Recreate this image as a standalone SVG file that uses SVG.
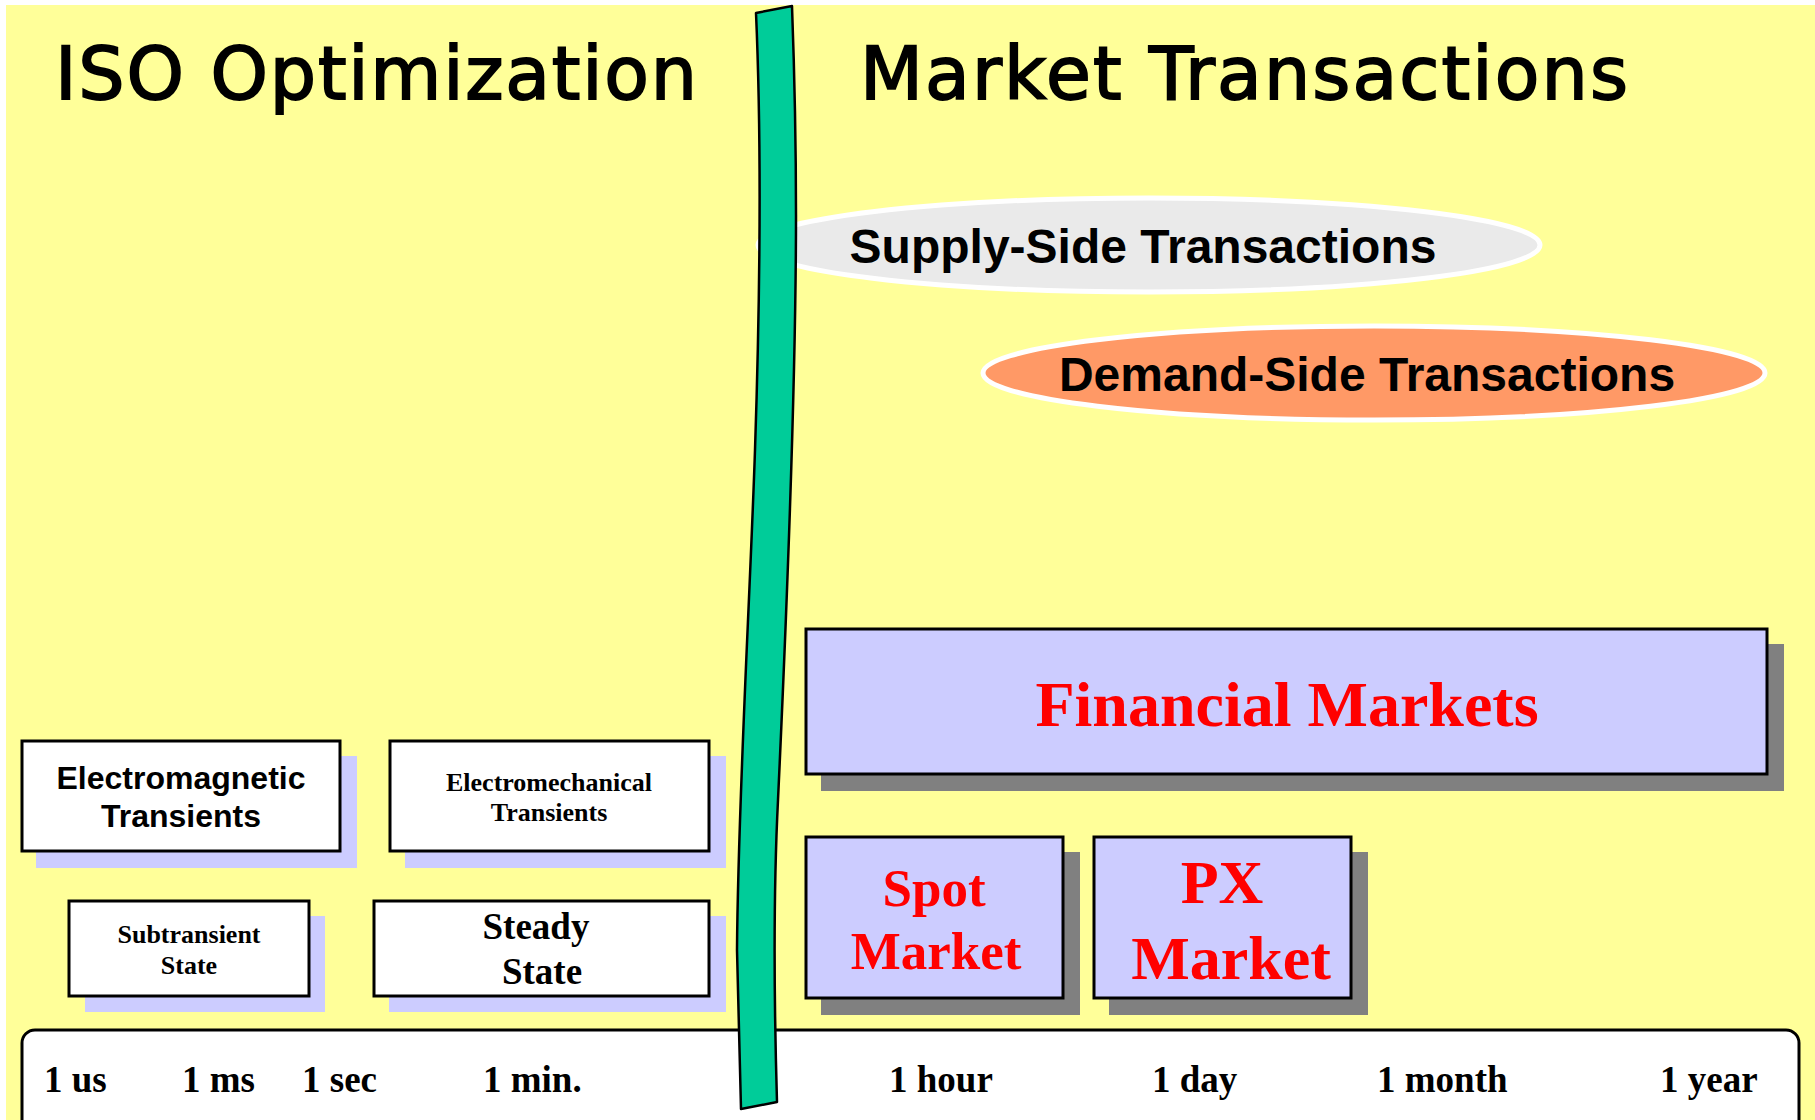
<svg xmlns="http://www.w3.org/2000/svg" width="1815" height="1120" viewBox="0 0 1815 1120">
<style>
.title{font-family:"DejaVu Sans","Liberation Sans",Arial,sans-serif;font-size:73px;fill:#000;stroke:#000;stroke-width:1.8px}
.sans{font-family:"Liberation Sans",Arial,sans-serif;font-weight:bold;fill:#000}
.serif{font-family:"Liberation Serif","Times New Roman",serif;font-weight:bold;fill:#000}
.red{fill:#FF0000}
.box{fill:#FFFFFF;stroke:#000;stroke-width:3}
.mbox{fill:#CCCCFF;stroke:#000;stroke-width:3}
.sh1{fill:#CCCCFF}
.sh2{fill:#808080}
.tick{font-size:37px}
</style>
<rect x="0" y="0" width="1815" height="1120" fill="#FFFFFF"/>
<rect x="6" y="5" width="1809" height="1115" fill="#FFFF99"/>

<g id="title-iso"><text class="title" x="55" y="99" textLength="642" lengthAdjust="spacing">ISO Optimization</text></g>
<g id="title-market"><text class="title" x="860" y="99" textLength="768" lengthAdjust="spacing">Market Transactions</text></g>

<g id="supply">
<ellipse cx="1149" cy="245" rx="391" ry="47" fill="#EAEAEA" stroke="#FFFFFF" stroke-width="5"/>
<text class="sans" x="1143" y="263" font-size="48" text-anchor="middle">Supply-Side Transactions</text>
</g>
<g id="demand">
<ellipse cx="1374" cy="373" rx="391" ry="47" fill="#FF9966" stroke="#FFFFFF" stroke-width="5"/>
<text class="sans" x="1367" y="391" font-size="48" text-anchor="middle">Demand-Side Transactions</text>
</g>

<g id="electromagnetic">
<rect class="sh1" x="36" y="756" width="321" height="112"/>
<rect class="box" x="22" y="741" width="318" height="110"/>
<text class="sans" x="181" y="789" font-size="32" text-anchor="middle">Electromagnetic</text>
<text class="sans" x="181" y="827" font-size="32" text-anchor="middle">Transients</text>
</g>
<g id="electromechanical">
<rect class="sh1" x="405" y="756" width="321" height="112"/>
<rect class="box" x="390" y="741" width="319" height="110"/>
<text class="serif" x="549" y="791" font-size="26" text-anchor="middle">Electromechanical</text>
<text class="serif" x="549" y="821" font-size="26" text-anchor="middle">Transients</text>
</g>
<g id="subtransient">
<rect class="sh1" x="85" y="916" width="240" height="96"/>
<rect class="box" x="69" y="901" width="240" height="95"/>
<text class="serif" x="189" y="943" font-size="26" text-anchor="middle">Subtransient</text>
<text class="serif" x="189" y="974" font-size="26" text-anchor="middle">State</text>
</g>
<g id="steady">
<rect class="sh1" x="389" y="916" width="337" height="96"/>
<rect class="box" x="374" y="901" width="335" height="95"/>
<text class="serif" x="536" y="939" font-size="37" text-anchor="middle">Steady</text>
<text class="serif" x="542" y="984" font-size="37" text-anchor="middle">State</text>
</g>

<g id="financial">
<rect class="sh2" x="821" y="644" width="963" height="147"/>
<rect class="mbox" x="806" y="629" width="961" height="145"/>
<text class="serif red" x="1287" y="726" font-size="64" text-anchor="middle">Financial Markets</text>
</g>
<g id="spot">
<rect class="sh2" x="821" y="852" width="259" height="163"/>
<rect class="mbox" x="806" y="837" width="257" height="161"/>
<text class="serif red" x="934" y="906" font-size="53" text-anchor="middle">Spot</text>
<text class="serif red" x="936" y="969" font-size="53" text-anchor="middle">Market</text>
</g>
<g id="px">
<rect class="sh2" x="1109" y="852" width="259" height="163"/>
<rect class="mbox" x="1094" y="837" width="257" height="161"/>
<text class="serif red" x="1222" y="903" font-size="62" text-anchor="middle">PX</text>
<text class="serif red" x="1231" y="979" font-size="62" text-anchor="middle">Market</text>
</g>

<g id="timeline">
<rect x="22" y="1030" width="1777" height="130" rx="13" fill="#FFFFFF" stroke="#000" stroke-width="3"/>
<g class="serif tick">
<text x="44" y="1092">1 us</text>
<text x="182" y="1092">1 ms</text>
<text x="302" y="1092">1 sec</text>
<text x="483" y="1092">1 min.</text>
<text x="889" y="1092">1 hour</text>
<text x="1152" y="1092">1 day</text>
<text x="1377" y="1092">1 month</text>
<text x="1660" y="1092">1 year</text>
</g>
</g>

<g id="divider">
<path d="M756,13 C762,150 760,300 755,450 C750,600 738,800 737,950 L741,1109 L777,1102 C774,1000 773,900 778,800 C785,650 796,400 796,215 C796,120 794,60 792,6 Z" fill="#00CC99" stroke="#000" stroke-width="2.5" stroke-linejoin="round"/>
</g>
<g id="connectors"></g>
</svg>
